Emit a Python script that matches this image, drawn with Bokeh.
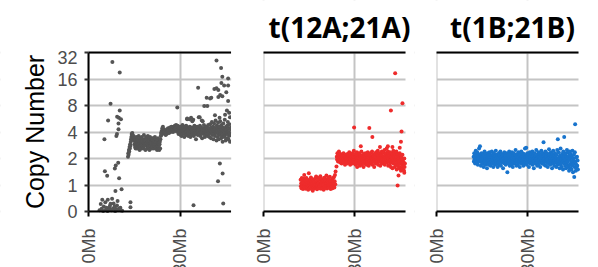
import numpy as np
from bokeh.plotting import figure
from bokeh.models import Range1d, FixedTicker, LinearAxis, Spacer, Label, BoxAnnotation
from bokeh.layouts import row, column
from bokeh.embed import file_html
from bokeh.resources import INLINE

# ---------------- data ----------------
chrom_len_mb = 46.7
cn_ticks = [0, 1, 2, 4, 8, 16, 32]
cn_tick_labels = ["0", "1", "2", "4", "8", "16", "32"]
mb_ticks = [0, 30]
mb_tick_labels = ["0Mb", "30Mb"]
panel_titles = ["", "t(12A;21A)", "t(1B;21B)"]
panel_colors = ["#555555", "#EE2C2C", "#1874CD"]

# grey sample: sparse p-arm points
grey_sparse_mb = [3.6, 4.0, 4.3, 4.5, 4.8, 5.0, 5.2, 5.35, 5.5, 5.7, 5.9, 6.1, 6.2, 6.3, 6.4,
                  6.6, 6.9, 7.0, 7.2, 7.2, 7.5, 7.7, 7.8, 8.0, 8.2, 8.5, 8.6, 8.7, 8.8, 8.8,
                  8.9, 9.1, 9.2, 9.3, 9.3, 9.35, 9.5, 9.7, 9.8, 9.8, 9.9, 9.9, 10.0, 10.2, 10.2,
                  10.4, 10.5, 10.6, 10.8, 11.0, 13.7, 13.7]
grey_sparse_cn = [0.05, 0.28, 0.1, 0.44, 0.02, 0.19, 3.3, 1.43, 0.35, 0.08, 0.14, 1.27, 0.02, 0.44, 5.4,
                  0.05, 0.14, 0.22, 8.4, 0.29, 0.05, 0.48, 25.0, 0.1, 0.3, 0.19, 1.54, 0.02, 0.77, 0.1,
                  1.66, 3.6, 0.05, 3.8, 0.23, 5.95, 0.4, 1.79, 5.0, 4.3, 5.8, 0.1, 1.19, 19.0, 7.0,
                  0.14, 0.05, 5.6, 0.84, 0.03, 0.35, 0.16]
grey_band1_mb = [12.9, 13.0, 13.1, 13.2, 13.3, 13.4, 13.5, 13.6, 13.7, 13.8,
                 13.9, 14.0, 14.1, 14.2, 14.3, 14.4, 14.5, 14.6, 14.7, 14.8,
                 14.9, 15.0, 15.1, 15.2, 15.3, 15.4, 15.5, 15.6, 15.7, 15.8,
                 15.9, 16.0, 16.1, 16.2, 16.3, 16.4, 16.5, 16.6, 16.7, 16.8,
                 16.9, 17.0, 17.1, 17.2, 17.3, 17.4, 17.5, 17.6, 17.7, 17.8,
                 17.9, 18.0, 18.1, 18.2, 18.3, 18.4, 18.5, 18.6, 18.7, 18.8,
                 18.9, 19.0, 19.1, 19.2, 19.3, 19.4, 19.5, 19.6, 19.7, 19.8,
                 19.9, 20.0, 20.1, 20.2, 20.3, 20.4, 20.5, 20.6, 20.7, 20.8,
                 20.9, 21.0, 21.1, 21.2, 21.3, 21.4, 21.5, 21.6, 21.7, 21.8,
                 21.9, 22.0, 22.1, 22.2, 22.3, 22.4, 22.5, 22.6, 22.7, 22.8,
                 22.9, 23.0, 23.1, 23.2, 23.3, 23.4, 23.5, 23.6, 23.7, 23.8,
                 23.9, 24.0, 24.1, 24.2, 24.3, 24.4]
grey_band1_cn = [2.1, 2.3, 2.2, 2.5, 2.4, 2.7, 2.6, 2.9, 2.8, 3.1,
                 3.3, 3.5, 3.8, 3.6, 3.9, 3.7, 3.5, 3.3, 3.6, 3.2,
                 3.4, 2.9, 3.2, 2.7, 3.1, 2.6, 3.0, 3.5, 2.8, 3.2,
                 2.6, 3.0, 3.3, 2.7, 3.0, 3.6, 2.8, 3.1, 2.5, 3.0,
                 3.4, 2.8, 3.2, 2.6, 3.0, 3.5, 2.9, 3.1, 2.7, 3.3,
                 2.6, 3.0, 3.7, 3.1, 2.8, 3.3, 2.9, 2.5, 3.2, 3.5,
                 2.8, 3.0, 3.4, 2.6, 3.1, 3.6, 2.9, 2.7, 3.3, 3.0,
                 2.5, 3.2, 3.5, 2.8, 3.0, 3.3, 2.6, 3.1, 2.9, 3.4,
                 2.7, 3.2, 2.6, 3.0, 3.4, 2.8, 3.1, 2.9, 3.5, 2.6,
                 3.0, 3.3, 2.7, 3.1, 2.9, 2.5, 3.2, 2.8, 3.4, 3.0,
                 2.6, 2.8, 2.5, 2.9, 3.1, 2.6, 3.3, 3.6, 3.9, 3.7,
                 4.1, 3.9, 4.4, 4.2, 4.6, 4.3]
grey_band2_mb = [24.5, 24.6, 24.7, 24.8, 24.9, 25.0, 25.1, 25.2, 25.3, 25.4,
                 25.5, 25.6, 25.7, 25.8, 25.9, 26.0, 26.1, 26.2, 26.3, 26.4,
                 26.5, 26.6, 26.7, 26.8, 26.9, 27.0, 27.1, 27.2, 27.3, 27.4,
                 27.5, 27.6, 27.7, 27.8, 27.9, 28.0, 28.1, 28.2, 28.3, 28.4,
                 28.5, 28.6, 28.7, 28.8, 28.9, 29.0, 29.1, 29.2, 29.3, 29.4,
                 29.5, 29.6, 29.7, 29.8, 29.9, 30.0, 30.1, 30.2, 30.3, 30.4,
                 30.5, 30.6, 30.7, 30.8, 30.9, 31.0, 31.1, 31.2, 31.3, 31.4,
                 31.5, 31.6, 31.7, 31.8, 31.9, 32.0, 32.1, 32.2, 32.3, 32.4,
                 32.5, 32.6, 32.7, 32.8, 32.9, 33.0, 33.1, 33.2, 33.3, 33.4,
                 33.5, 33.6, 33.7, 33.8, 33.9, 34.0, 34.1, 34.2, 34.3, 34.4,
                 34.5, 34.6, 34.7, 34.8, 34.9, 35.0, 35.1, 35.2, 35.3, 35.4,
                 35.5, 35.6, 35.7, 35.8, 35.9, 36.0, 36.1, 36.2, 36.3, 36.4,
                 36.5, 36.6, 36.7, 36.8, 36.9, 37.0, 37.1, 37.2, 37.3, 37.4,
                 37.5, 37.6, 37.7, 37.8, 37.9, 38.0, 38.1, 38.2, 38.3, 38.4,
                 38.5, 38.6, 38.7, 38.8, 38.9, 39.0, 39.1, 39.2, 39.3, 39.4,
                 39.5, 39.6, 39.7, 39.8, 39.9, 40.0, 40.1, 40.2, 40.3, 40.4,
                 40.5, 40.6, 40.7, 40.8, 40.9, 41.0, 41.1, 41.2, 41.3, 41.4,
                 41.5, 41.6, 41.7, 41.8, 41.9, 42.0, 42.1, 42.2, 42.3, 42.4,
                 42.5, 42.6, 42.7, 42.8, 42.9, 43.0, 43.1, 43.2, 43.3, 43.4,
                 43.5, 43.6, 43.7, 43.8, 43.9, 44.0, 44.1, 44.2, 44.3, 44.4,
                 44.5, 44.6, 44.7, 44.8, 44.9, 45.0, 45.1, 45.2, 45.3, 45.4,
                 45.5, 45.6, 45.7, 45.8, 45.9, 46.0, 46.1, 46.2, 46.3, 46.4,
                 46.5]
grey_band2_cn = [4.0, 4.3, 3.9, 4.1, 3.8, 4.2, 4.0, 3.7, 3.9, 4.1,
                 3.8, 4.0, 4.3, 3.9, 4.1, 4.4, 4.0, 4.2, 3.9, 4.3,
                 4.1, 4.5, 4.2, 4.0, 4.4, 4.2, 4.6, 4.3, 4.1, 4.5,
                 4.3, 4.0, 4.4, 4.6, 4.2, 4.5, 4.3, 4.7, 4.4, 4.1,
                 4.5, 4.8, 4.3, 4.6, 4.2, 4.4, 4.7, 4.0, 4.3, 3.8,
                 4.1, 4.4, 3.9, 4.2, 4.6, 4.0, 3.7, 4.3, 4.1, 3.6,
                 4.4, 4.0, 4.8, 3.8, 4.2, 4.5, 3.9, 4.1, 3.5, 4.3,
                 4.6, 3.8, 4.2, 4.0, 4.7, 3.7, 4.1, 5.6, 4.4, 3.9,
                 4.2, 3.6, 4.5, 4.0, 4.3, 3.8, 4.6, 4.1, 3.5, 4.4,
                 5.8, 4.0, 4.2, 3.7, 4.5, 4.1, 3.9, 5.5, 4.3, 3.6,
                 4.0, 4.7, 4.2, 3.8, 4.4, 4.0, 3.3, 4.5, 4.1, 3.9,
                 4.6, 4.2, 3.7, 4.3, 4.0, 5.9, 4.4, 3.8, 4.1, 4.7,
                 3.6, 4.2, 4.0, 4.5, 3.9, 4.3, 3.4, 4.1, 5.3, 4.4,
                 3.8, 4.2, 4.8, 3.9, 4.1, 3.5, 4.4, 4.0, 4.6, 3.7,
                 4.2, 3.9, 4.5, 4.1, 3.6, 4.3, 4.8, 3.8, 4.0, 4.4,
                 3.5, 4.2, 4.9, 3.9, 4.1, 3.4, 4.5, 4.0, 5.2, 3.7,
                 4.3, 3.9, 4.6, 3.3, 4.1, 5.0, 3.8, 4.4, 3.6, 4.2,
                 5.4, 3.9, 4.0, 3.2, 4.7, 4.1, 3.5, 4.4, 5.1, 3.8,
                 4.0, 3.3, 4.6, 4.2, 3.7, 5.3, 3.9, 4.3, 3.4, 4.8,
                 4.0, 3.6, 4.5, 3.1, 4.2, 5.0, 3.8, 4.4, 3.5, 4.1,
                 5.5, 3.7, 4.3, 3.2, 4.6, 3.9, 4.2, 3.4, 4.7, 3.8,
                 5.2, 4.0, 3.3, 4.4, 3.6, 4.9, 3.9, 3.1, 4.3, 3.7,
                 4.5]
grey_outlier_mb = [29.0, 32.2, 33.0, 33.9, 34.3, 35.8, 36.3, 37.0, 37.8, 38.6, 38.8, 39.7, 40.1,
                   41.1, 41.3, 41.8, 41.8, 42.3, 42.4, 42.4, 42.8, 42.9, 43.0, 43.3, 43.4, 43.7,
                   43.7, 43.8, 44.0, 44.3, 44.6, 45.0, 45.2, 45.6, 45.6, 45.6, 45.9, 46.2]
grey_outlier_cn = [7.6, 5.7, 5.6, 5.3, 0.24, 12.7, 5.9, 5.4, 7.9, 9.8, 7.9, 9.6, 9.8,
                   12.3, 6.2, 26.0, 12.6, 1.1, 12.0, 10.0, 5.8, 1.75, 10.5, 21.4, 14.4, 17.0,
                   10.2, 1.35, 0.3, 13.5, 6.3, 11.3, 7.0, 16.2, 13.5, 9.0, 6.6, 5.9]

# red sample t(12A;21A)
red_seg1_mb = [12.2, 12.3, 12.4, 12.5, 12.6, 12.7, 12.8, 12.9, 13.0, 13.1,
               13.2, 13.3, 13.4, 13.5, 13.6, 13.7, 13.8, 13.9, 14.0, 14.1,
               14.2, 14.3, 14.4, 14.5, 14.6, 14.7, 14.8, 14.9, 15.0, 15.1,
               15.2, 15.3, 15.4, 15.5, 15.6, 15.7, 15.8, 15.9, 16.0, 16.1,
               16.2, 16.3, 16.4, 16.5, 16.6, 16.7, 16.8, 16.9, 17.0, 17.1,
               17.2, 17.3, 17.4, 17.5, 17.6, 17.7, 17.8, 17.9, 18.0, 18.1,
               18.2, 18.3, 18.4, 18.5, 18.6, 18.7, 18.8, 18.9, 19.0, 19.1,
               19.2, 19.3, 19.4, 19.5, 19.6, 19.7, 19.8, 19.9, 20.0, 20.1,
               20.2, 20.3, 20.4, 20.5, 20.6, 20.7, 20.8, 20.9, 21.0, 21.1,
               21.2, 21.3, 21.4, 21.5, 21.6, 21.7, 21.8, 21.9, 22.0, 22.1,
               22.2, 22.3, 22.4, 22.5, 22.6, 22.7, 22.8, 22.9, 23.0, 23.1,
               23.2, 23.3, 23.4, 23.5, 23.6, 23.7, 24.0]
red_seg1_cn = [1.15, 0.95, 1.05, 0.88, 1.2, 1.0, 0.92, 1.1, 0.85, 1.05,
               1.18, 0.95, 1.3, 1.0, 0.9, 1.12, 1.02, 0.86, 1.08, 1.2,
               0.94, 1.05, 0.9, 1.15, 1.0, 0.82, 1.1, 1.36, 0.97, 1.06,
               0.88, 1.14, 1.0, 0.92, 1.22, 1.03, 0.85, 1.09, 0.96, 1.16,
               0.78, 1.04, 0.93, 1.12, 1.0, 0.87, 1.08, 0.95, 1.18, 1.02,
               0.9, 1.25, 0.98, 1.07, 0.84, 1.11, 0.96, 1.03, 1.2, 0.91,
               1.05, 0.88, 1.14, 1.0, 0.94, 1.26, 1.02, 0.86, 1.09, 0.97,
               1.17, 0.9, 1.04, 1.12, 0.95, 1.0, 0.82, 1.1, 1.21, 0.93,
               1.06, 0.89, 1.15, 1.01, 0.96, 1.28, 1.04, 0.87, 1.1, 0.98,
               1.19, 0.92, 1.05, 1.13, 0.9, 1.02, 1.24, 0.95, 1.07, 0.85,
               1.12, 1.0, 0.93, 1.16, 1.03, 0.88, 1.09, 1.2, 0.97, 1.05,
               1.23, 0.91, 1.1, 1.3, 1.02, 1.42, 1.62]
red_seg2_mb = [24.1, 24.2, 24.3, 24.4, 24.5, 24.6, 24.7, 24.8, 24.9, 25.0,
               25.1, 25.2, 25.3, 25.4, 25.5, 25.6, 25.7, 25.8, 25.9, 26.0,
               26.1, 26.2, 26.3, 26.4, 26.5, 26.6, 26.7, 26.8, 26.9, 27.0,
               27.1, 27.2, 27.3, 27.4, 27.5, 27.6, 27.7, 27.8, 27.9, 28.0,
               28.1, 28.2, 28.3, 28.4, 28.5, 28.6, 28.7, 28.8, 28.9, 29.0,
               29.1, 29.2, 29.3, 29.4, 29.5, 29.6, 29.7, 29.8, 29.9, 30.0,
               30.1, 30.2, 30.3, 30.4, 30.5, 30.6, 30.7, 30.8, 30.9, 31.0,
               31.1, 31.2, 31.3, 31.4, 31.5, 31.6, 31.7, 31.8, 31.9, 32.0,
               32.1, 32.2, 32.3, 32.4, 32.5, 32.6, 32.7, 32.8, 32.9, 33.0,
               33.1, 33.2, 33.3, 33.4, 33.5, 33.6, 33.7, 33.8, 33.9, 34.0,
               34.1, 34.2, 34.3, 34.4, 34.5, 34.6, 34.7, 34.8, 34.9, 35.0,
               35.1, 35.2, 35.3, 35.4, 35.5, 35.6, 35.7, 35.8, 35.9, 36.0,
               36.1, 36.2, 36.3, 36.4, 36.5, 36.6, 36.7, 36.8, 36.9, 37.0,
               37.1, 37.2, 37.3, 37.4, 37.5, 37.6, 37.7, 37.8, 37.9, 38.0,
               38.1, 38.2, 38.3, 38.4, 38.5, 38.6, 38.7, 38.8, 38.9, 39.0,
               39.1, 39.2, 39.3, 39.4, 39.5, 39.6, 39.7, 39.8, 39.9, 40.0,
               40.1, 40.2, 40.3, 40.4, 40.5, 40.6, 40.7, 40.8, 40.9, 41.0,
               41.1, 41.2, 41.3, 41.4, 41.5, 41.6, 41.7, 41.8, 41.9, 42.0,
               42.1, 42.2, 42.3, 42.4, 42.5, 42.6, 42.7, 42.8, 42.9, 43.0,
               43.1, 43.2, 43.3, 43.4, 43.5, 43.6, 43.7, 43.8, 43.9, 44.0,
               44.1, 44.2, 44.3, 44.4, 44.5, 44.6, 44.7, 44.8, 44.9, 45.0,
               45.1, 45.2, 45.3, 45.4, 45.5, 45.6, 45.7, 45.8, 45.9, 46.0,
               46.1, 46.2, 46.3, 46.4, 46.5]
red_seg2_cn = [2.1, 1.95, 2.3, 2.05, 1.85, 2.2, 2.0, 2.4, 1.9, 2.15,
               2.0, 1.8, 2.25, 2.05, 1.9, 2.1, 1.75, 2.0, 2.2, 1.85,
               2.05, 1.95, 2.3, 1.8, 2.0, 2.15, 1.9, 1.7, 2.05, 2.2,
               1.95, 1.85, 2.1, 2.0, 1.75, 2.25, 1.9, 2.05, 1.8, 2.15,
               1.95, 2.35, 1.85, 2.0, 1.7, 2.1, 1.95, 2.2, 1.8, 2.05,
               1.9, 2.3, 1.75, 2.0, 2.15, 1.85, 2.45, 1.95, 2.1, 1.8,
               2.0, 2.25, 1.7, 1.95, 2.1, 1.85, 2.35, 1.6, 2.0, 2.15,
               1.9, 1.75, 2.05, 2.3, 1.8, 2.0, 1.65, 2.2, 1.95, 2.1,
               1.85, 2.4, 1.7, 2.0, 1.9, 2.15, 1.8, 2.05, 1.6, 2.25,
               1.95, 2.1, 1.75, 2.0, 2.3, 1.85, 2.05, 1.7, 2.2, 1.9,
               2.05, 1.8, 2.35, 1.95, 2.1, 1.65, 2.0, 2.2, 1.85, 2.05,
               1.75, 2.3, 1.9, 2.1, 1.8, 2.0, 2.4, 1.7, 2.05, 1.95,
               2.2, 1.85, 2.1, 1.6, 2.0, 2.25, 1.9, 2.1, 1.75, 2.35,
               1.95, 2.05, 1.8, 2.2, 1.9, 2.45, 1.7, 2.0, 2.15, 1.85,
               2.3, 1.95, 2.1, 1.65, 2.0, 2.25, 1.8, 2.05, 2.4, 1.9,
               2.15, 1.75, 2.0, 2.35, 1.85, 2.1, 1.95, 2.5, 1.7, 2.05,
               2.2, 1.85, 2.3, 1.95, 2.6, 1.8, 2.1, 1.9, 2.4, 1.65,
               2.0, 2.25, 1.85, 2.15, 1.7, 2.35, 1.95, 2.1, 1.6, 2.05,
               2.3, 1.8, 2.0, 1.55, 2.2, 1.9, 2.45, 1.75, 2.1, 1.85,
               2.3, 1.6, 2.0, 2.2, 1.7, 1.95, 2.4, 1.5, 2.05, 1.8,
               2.25, 1.65, 1.95, 2.1, 1.55, 2.0, 1.75, 2.3, 1.6, 1.9,
               2.15, 1.45, 1.85, 2.05, 1.55, 1.7, 2.2, 1.5, 1.95, 1.65,
               1.8, 1.45, 2.0, 1.6, 1.75]
red_outlier_mb = [29.8, 32.0, 34.8, 35.8, 38.3, 40.9, 41.9, 42.4, 43.3, 44.1, 44.4, 44.8, 45.2, 45.4, 45.7, 46.3]
red_outlier_cn = [4.5, 2.75, 4.45, 3.5, 2.7, 2.75, 7.0, 2.7, 18.6, 0.98, 1.28, 2.65, 3.1, 4.05, 8.5, 1.38]

# blue sample t(1B;21B)
blue_mb = [12.2, 12.3, 12.4, 12.5, 12.6, 12.7, 12.8, 12.9, 13.0, 13.1,
           13.2, 13.3, 13.4, 13.5, 13.6, 13.7, 13.8, 13.9, 14.0, 14.1,
           14.2, 14.3, 14.4, 14.5, 14.6, 14.7, 14.8, 14.9, 15.0, 15.1,
           15.2, 15.3, 15.4, 15.5, 15.6, 15.7, 15.8, 15.9, 16.0, 16.1,
           16.2, 16.3, 16.4, 16.5, 16.6, 16.7, 16.8, 16.9, 17.0, 17.1,
           17.2, 17.3, 17.4, 17.5, 17.6, 17.7, 17.8, 17.9, 18.0, 18.1,
           18.2, 18.3, 18.4, 18.5, 18.6, 18.7, 18.8, 18.9, 19.0, 19.1,
           19.2, 19.3, 19.4, 19.5, 19.6, 19.7, 19.8, 19.9, 20.0, 20.1,
           20.2, 20.3, 20.4, 20.5, 20.6, 20.7, 20.8, 20.9, 21.0, 21.1,
           21.2, 21.3, 21.4, 21.5, 21.6, 21.7, 21.8, 21.9, 22.0, 22.1,
           22.2, 22.3, 22.4, 22.5, 22.6, 22.7, 22.8, 22.9, 23.0, 23.1,
           23.2, 23.3, 23.4, 23.5, 23.6, 23.7, 23.8, 23.9, 24.0, 24.1,
           24.2, 24.3, 24.4, 24.5, 24.6, 24.7, 24.8, 24.9, 25.0, 25.1,
           25.2, 25.3, 25.4, 25.5, 25.6, 25.7, 25.8, 25.9, 26.0, 26.1,
           26.2, 26.3, 26.4, 26.5, 26.6, 26.7, 26.8, 26.9, 27.0, 27.1,
           27.2, 27.3, 27.4, 27.5, 27.6, 27.7, 27.8, 27.9, 28.0, 28.1,
           28.2, 28.3, 28.4, 28.5, 28.6, 28.7, 28.8, 28.9, 29.0, 29.1,
           29.2, 29.3, 29.4, 29.5, 29.6, 29.7, 29.8, 29.9, 30.0, 30.1,
           30.2, 30.3, 30.4, 30.5, 30.6, 30.7, 30.8, 30.9, 31.0, 31.1,
           31.2, 31.3, 31.4, 31.5, 31.6, 31.7, 31.8, 31.9, 32.0, 32.1,
           32.2, 32.3, 32.4, 32.5, 32.6, 32.7, 32.8, 32.9, 33.0, 33.1,
           33.2, 33.3, 33.4, 33.5, 33.6, 33.7, 33.8, 33.9, 34.0, 34.1,
           34.2, 34.3, 34.4, 34.5, 34.6, 34.7, 34.8, 34.9, 35.0, 35.1,
           35.2, 35.3, 35.4, 35.5, 35.6, 35.7, 35.8, 35.9, 36.0, 36.1,
           36.2, 36.3, 36.4, 36.5, 36.6, 36.7, 36.8, 36.9, 37.0, 37.1,
           37.2, 37.3, 37.4, 37.5, 37.6, 37.7, 37.8, 37.9, 38.0, 38.1,
           38.2, 38.3, 38.4, 38.5, 38.6, 38.7, 38.8, 38.9, 39.0, 39.1,
           39.2, 39.3, 39.4, 39.5, 39.6, 39.7, 39.8, 39.9, 40.0, 40.1,
           40.2, 40.3, 40.4, 40.5, 40.6, 40.7, 40.8, 40.9, 41.0, 41.1,
           41.2, 41.3, 41.4, 41.5, 41.6, 41.7, 41.8, 41.9, 42.0, 42.1,
           42.2, 42.3, 42.4, 42.5, 42.6, 42.7, 42.8, 42.9, 43.0, 43.1,
           43.2, 43.3, 43.4, 43.5, 43.6, 43.7, 43.8, 43.9, 44.0, 44.1,
           44.2, 44.3, 44.4, 44.5, 44.6, 44.7, 44.8, 44.9, 45.0, 45.1,
           45.2, 45.3, 45.4, 45.5, 45.6, 45.7, 45.8, 45.9, 46.0, 46.1,
           46.2, 46.3, 46.4, 46.5]
blue_cn = [2.1, 1.85, 2.3, 1.95, 2.05, 1.75, 2.2, 2.45, 1.9, 2.0,
           2.15, 1.8, 2.35, 2.0, 1.7, 2.25, 1.95, 2.1, 2.6, 1.85,
           2.0, 2.75, 1.9, 2.2, 1.65, 2.05, 2.3, 1.8, 2.1, 1.95,
           1.75, 2.2, 2.0, 1.6, 2.15, 1.9, 2.4, 1.85, 2.05, 1.7,
           2.25, 1.95, 1.8, 2.1, 1.55, 2.0, 2.3, 1.85, 1.95, 2.15,
           1.7, 2.05, 2.35, 1.9, 1.8, 2.2, 1.65, 2.0, 2.1, 1.85,
           2.4, 1.95, 1.75, 2.05, 2.2, 1.6, 1.9, 2.3, 1.8, 2.0,
           2.15, 1.7, 1.95, 2.45, 1.85, 2.05, 1.75, 2.2, 1.9, 1.6,
           2.1, 2.0, 1.8, 2.3, 1.95, 1.7, 2.15, 1.85, 2.4, 2.0,
           1.65, 2.05, 1.9, 2.25, 1.8, 2.1, 1.95, 1.55, 2.2, 2.0,
           1.85, 2.35, 1.75, 2.05, 1.9, 2.15, 1.7, 2.0, 2.3, 1.8,
           1.95, 1.4, 2.1, 1.85, 2.2, 1.75, 2.0, 2.4, 1.9, 1.65,
           2.05, 2.25, 1.8, 1.95, 2.1, 1.7, 2.35, 1.9, 2.0, 1.6,
           2.15, 1.85, 2.3, 1.95, 1.75, 2.05, 2.2, 1.8, 2.5, 1.9,
           2.0, 1.65, 2.1, 1.85, 2.25, 1.95, 1.7, 2.05, 2.35, 1.8,
           1.9, 2.15, 1.6, 2.0, 2.2, 1.85, 1.95, 2.4, 1.75, 2.05,
           2.3, 1.8, 1.95, 2.1, 1.65, 2.0, 2.25, 1.9, 1.75, 2.6,
           2.05, 1.85, 2.15, 2.65, 1.95, 1.7, 2.1, 2.3, 1.8, 2.0,
           1.9, 2.2, 1.6, 2.05, 1.85, 2.35, 1.95, 1.75, 2.1, 2.0,
           2.25, 1.8, 1.95, 2.4, 1.7, 2.05, 1.9, 2.15, 1.55, 2.0,
           1.85, 2.3, 2.05, 1.75, 2.1, 1.95, 2.5, 1.8, 2.0, 1.65,
           2.2, 1.9, 2.05, 1.7, 2.35, 1.85, 2.1, 1.95, 2.25, 1.6,
           2.0, 1.8, 2.15, 2.45, 1.9, 1.75, 2.05, 2.3, 1.85, 2.1,
           3.05, 1.95, 1.7, 2.2, 2.0, 1.85, 2.4, 1.65, 2.05, 1.9,
           2.15, 1.8, 2.3, 1.95, 1.6, 2.1, 2.0, 1.75, 2.55, 1.85,
           2.05, 2.2, 1.7, 1.95, 2.35, 1.8, 2.1, 1.9, 1.55, 2.25,
           2.0, 1.85, 2.45, 1.75, 2.05, 1.65, 2.15, 1.9, 2.3, 1.8,
           2.1, 1.95, 1.6, 2.2, 1.85, 2.5, 1.7, 3.3, 2.0, 1.9,
           2.35, 1.75, 2.05, 1.55, 2.15, 1.85, 2.6, 1.7, 2.0, 1.95,
           1.6, 2.25, 1.8, 2.1, 1.5, 2.4, 1.9, 2.05, 3.5, 1.75,
           2.2, 1.65, 1.95, 2.3, 1.55, 2.1, 1.8, 2.5, 1.7, 2.0,
           1.85, 2.35, 1.6, 2.15, 1.45, 1.95, 2.4, 1.7, 2.05, 1.55,
           2.25, 1.8, 1.5, 2.1, 1.65, 2.45, 1.9, 1.4, 2.0, 1.75,
           2.2, 1.23, 1.6, 2.35, 4.9, 1.85, 1.45, 2.05, 1.7, 1.55,
           2.1, 1.65, 1.9, 1.5]


def cn_pos(values):
    """Copy-number axis: linear below 1, log2 above (0,1,2,4,8,16,32 evenly spaced)."""
    v = np.asarray(values, dtype=float)
    return np.where(v <= 1.0, v, 1.0 + np.log2(np.maximum(v, 1.0)))


def collect(segments):
    xs, ys = [], []
    for a, b in segments:
        n = min(len(a), len(b))
        xs += list(a[:n])
        ys += list(b[:n])
    return xs, ys


panel_data = [
    collect([(grey_sparse_mb, grey_sparse_cn), (grey_band1_mb, grey_band1_cn),
             (grey_band2_mb, grey_band2_cn), (grey_outlier_mb, grey_outlier_cn)]),
    collect([(red_seg1_mb, red_seg1_cn), (red_seg2_mb, red_seg2_cn),
             (red_outlier_mb, red_outlier_cn)]),
    collect([(blue_mb, blue_cn)]),
]

# ---------------- layout (page pixels, origin at page top-left) / styling ----------------
TICK_FONT = "Liberation Sans"
TICK_COLOR = "#4D4D4D"
GRID_COLOR = "#C4C4C4"
Y_TOP_RULE = 52           # page y of copy number 32
Y_ZERO = 211              # page y of copy number 0
CANVAS_BOTTOM = 267       # page y of the bottom of each plot
TITLE_RISE_PX = 26        # title anchor above the top rule
TITLE_SHIFT_PX = 5        # title centre right of the panel centre
canvas_left = [0, 231, 414]
canvas_right = [231, 414, 588]
panel_left = [88, 263, 436]
panel_right = [231, 405, 578]
canvas_top = [50, 0, 0]

tick_pos = [float(v) for v in cn_pos(cn_ticks)]
top_pos = tick_pos[-1]
unit_px = (Y_ZERO - Y_TOP_RULE) / top_pos
y_overrides = {int(round(p)): lab for p, lab in zip(tick_pos, cn_tick_labels)}
x_overrides = {t: lab for t, lab in zip(mb_ticks, mb_tick_labels)}


def make_panel(idx):
    xs, cns = panel_data[idx]
    fw = canvas_right[idx] - canvas_left[idx]
    fh = CANVAS_BOTTOM - canvas_top[idx]
    mb_px = (panel_right[idx] - panel_left[idx]) / chrom_len_mb
    x_lo = -(panel_left[idx] - canvas_left[idx]) / mb_px
    x_hi = (canvas_right[idx] - panel_left[idx]) / mb_px
    y_lo = -(CANVAS_BOTTOM - Y_ZERO) / unit_px
    y_hi = top_pos + (Y_TOP_RULE - canvas_top[idx]) / unit_px
    p = figure(frame_width=fw, frame_height=fh, output_backend="svg", toolbar_location=None,
               x_range=Range1d(x_lo, x_hi), y_range=Range1d(y_lo, y_hi),
               min_border_left=0, min_border_right=0, min_border_top=0, min_border_bottom=0,
               background_fill_color="white", border_fill_color="white",
               outline_line_color=None)

    # grid lines, masked to the panel rectangle
    p.xgrid.ticker = FixedTicker(ticks=mb_ticks)
    p.ygrid.ticker = FixedTicker(ticks=tick_pos)
    for g in (p.xgrid, p.ygrid):
        g.grid_line_color = GRID_COLOR
        g.grid_line_width = 2
    for kw in (dict(top=0), dict(bottom=top_pos), dict(right=0), dict(left=chrom_len_mb)):
        p.add_layout(BoxAnnotation(fill_color="white", fill_alpha=1.0, line_color=None,
                                   level="underlay", **kw))

    p.scatter(xs, list(cn_pos(cns)), size=4.0, fill_color=panel_colors[idx],
              line_color=None)

    # bottom axis pinned at copy number 0
    xa = p.xaxis[0]
    xa.fixed_location = 0
    xa.bounds = (0, chrom_len_mb)
    xa.ticker = FixedTicker(ticks=mb_ticks)
    xa.major_label_overrides = x_overrides
    xa.major_label_orientation = np.pi / 2
    xa.axis_line_width = 2
    xa.axis_line_color = "black"
    xa.major_tick_line_width = 2
    xa.major_tick_line_color = "black"
    xa.major_tick_out = 5
    xa.major_tick_in = 0
    xa.minor_tick_line_color = None
    xa.major_label_text_font = TICK_FONT
    xa.major_label_text_font_size = "18px"
    xa.major_label_text_color = TICK_COLOR
    xa.major_label_standoff = 12

    # top rule pinned at copy number 32
    top = LinearAxis(ticker=FixedTicker(ticks=[]), axis_line_width=2, axis_line_color="black",
                     major_tick_line_color=None, minor_tick_line_color=None,
                     major_label_text_font_size="1px", major_label_standoff=0,
                     major_tick_out=0, major_tick_in=0, fixed_location=top_pos,
                     bounds=(0, chrom_len_mb))
    p.add_layout(top, "above")

    ya = p.yaxis[0]
    ya.ticker = FixedTicker(ticks=tick_pos)
    if idx == 0:
        ya.fixed_location = 0
        ya.bounds = (0, top_pos)
        ya.major_label_overrides = y_overrides
        ya.axis_line_width = 2
        ya.axis_line_color = "black"
        ya.major_tick_line_width = 2
        ya.major_tick_line_color = "#333333"
        ya.major_tick_out = 4
        ya.major_tick_in = 0
        ya.minor_tick_line_color = None
        ya.major_label_text_font = TICK_FONT
        ya.major_label_text_font_size = "18px"
        ya.major_label_text_color = TICK_COLOR
        ya.major_label_standoff = 7
        ya.axis_label = "Copy Number"
        ya.axis_label_text_font = TICK_FONT
        ya.axis_label_text_font_size = "25px"
        ya.axis_label_text_font_style = "normal"
        ya.axis_label_text_color = "black"
        ya.axis_label_standoff = 5
    else:
        ya.visible = False

    if panel_titles[idx]:
        p.add_layout(Label(x=chrom_len_mb / 2 + TITLE_SHIFT_PX / mb_px,
                           y=top_pos + TITLE_RISE_PX / unit_px,
                           text=panel_titles[idx],
                           text_align="center", text_baseline="alphabetic",
                           text_font="Open Sans", text_font_style="bold",
                           text_font_size="28px", text_color="black"))
    return p


p1 = make_panel(0)
p2 = make_panel(1)
p3 = make_panel(2)

layout = row(column(Spacer(width=canvas_right[0] - canvas_left[0],
                           height=canvas_top[0] - canvas_top[1]), p1), p2, p3)

open("out.html", "w").write(file_html(layout, INLINE))
